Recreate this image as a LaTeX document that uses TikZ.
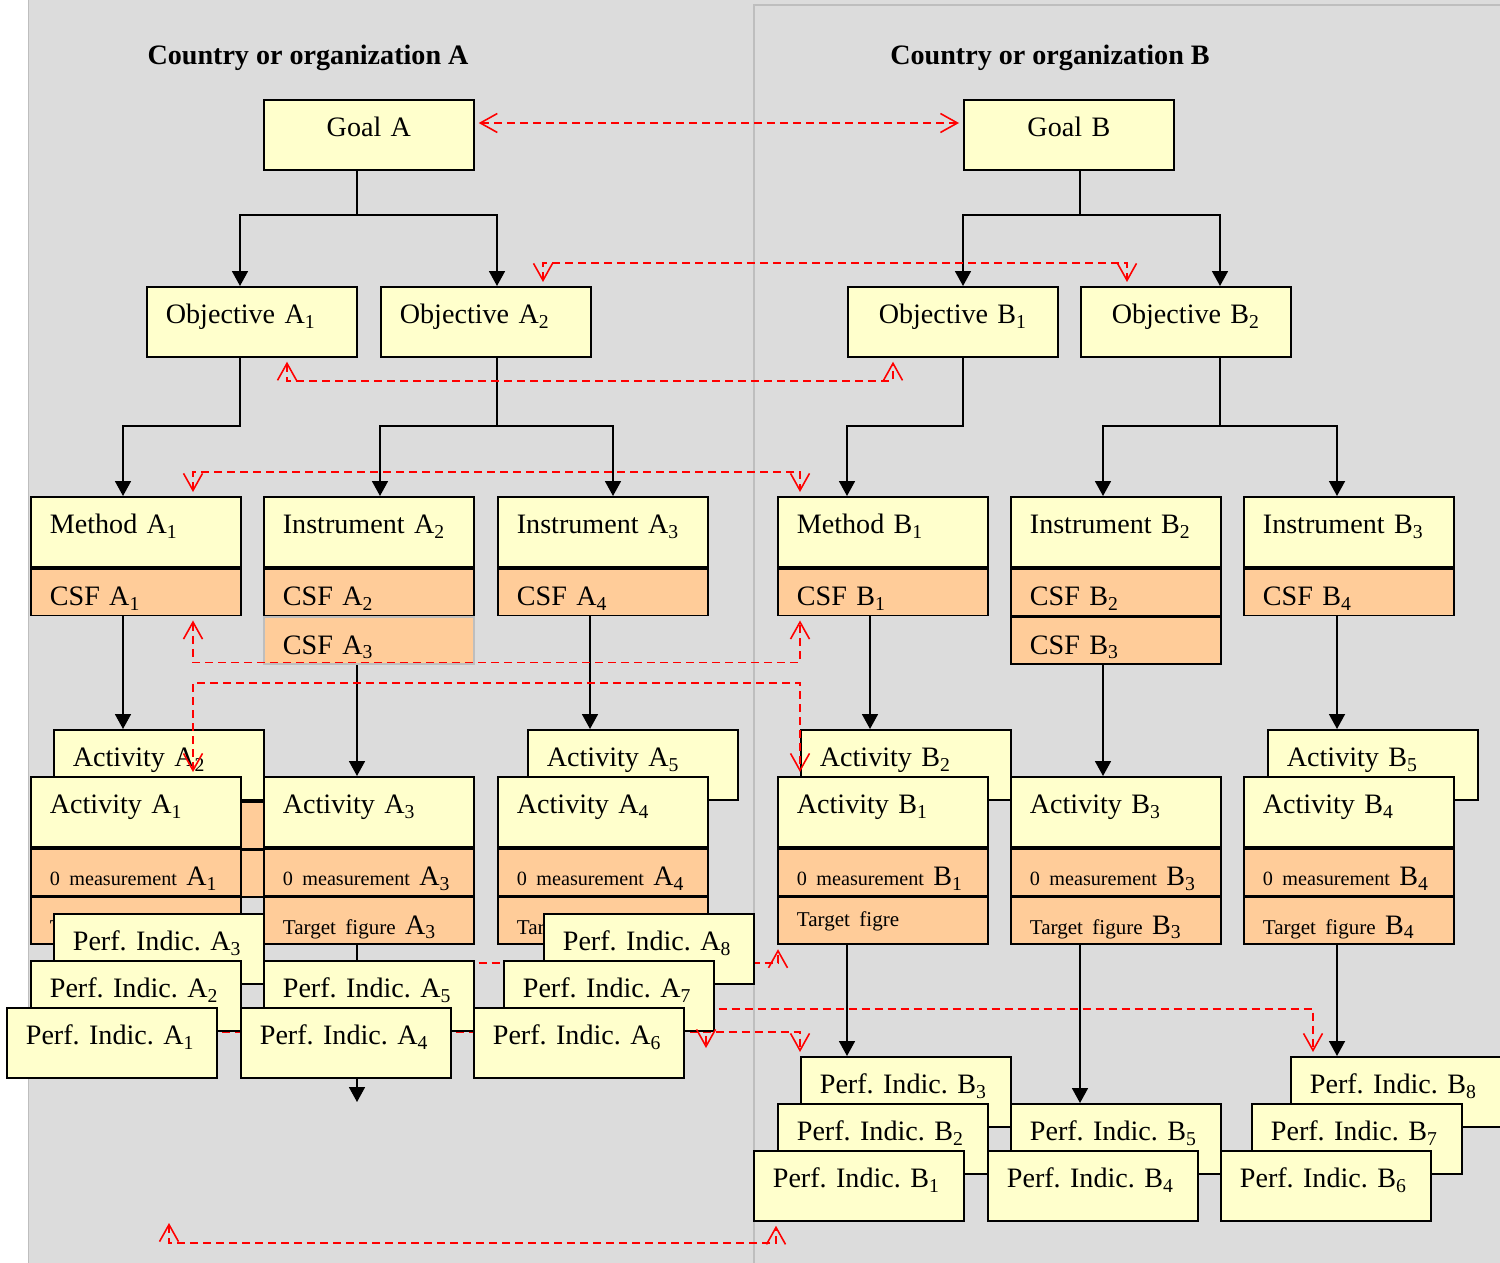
\documentclass[tikz,border=0pt]{standalone}
\usepackage{fontspec}
\setmainfont{Liberation Serif}
\usetikzlibrary{arrows.meta}
\pgfdeclarelayer{bg}
\pgfdeclarelayer{back}
\pgfsetlayers{bg,back,main}

\definecolor{panelgray}{RGB}{220,220,220}
\definecolor{panelline}{RGB}{190,190,190}
\definecolor{boxyellow}{RGB}{255,255,204}
\definecolor{boxorange}{RGB}{255,204,153}
\definecolor{linkred}{RGB}{255,0,0}

\frenchspacing
\newcommand{\lowidx}[1]{\textsubscript{#1}}
\newcommand{\measline}[2]{{\fontsize{11.5}{14}\selectfont 0 measurement} #1\lowidx{#2}}
\newcommand{\targetline}[2]{{\fontsize{12}{14}\selectfont Target figure} #1\lowidx{#2}}

\tikzset{
  boxbase/.style={draw, line width=1pt, fill=boxyellow, anchor=north west,
    minimum width=4.2cm, minimum height=1.4cm, text width=3.44cm,
    inner xsep=0.38cm, inner ysep=0pt, text height=0.74cm, text depth=0.66cm,
    font=\fontsize{16}{18}\selectfont},
  box/.style={boxbase, align=left, execute at begin node={\rightskip=0pt minus 4cm\relax}},
  goal/.style={boxbase, align=center},
  band/.style={box, fill=boxorange, minimum height=0.94cm, text height=0.74cm, text depth=0.2cm},
  title/.style={anchor=base, font=\bfseries\fontsize{16}{18}\selectfont},
  tree/.style={line width=1pt, -{Triangle[length=0.3cm,width=0.32cm]}},
  link/.style={draw=linkred, line width=0.9pt, dash pattern=on 0.16cm off 0.1cm,
    shorten <=0.08cm, shorten >=0.08cm, >={Straight Barb[length=0.34cm,width=0.38cm]}},
}

\begin{document}
\begin{tikzpicture}[x=0.02cm, y=-0.02cm]
\useasboundingbox (0,0) rectangle (1500,1263);
\begin{pgfonlayer}{bg}
\fill[panelgray] (28,0) rectangle (1500,1263);
\draw[panelline] (28,0) -- (28,1263);
\draw[panelline, line width=1.2pt] (1510,5) -- (754,5) -- (754,1270);
\end{pgfonlayer}

\node[title] (titleA) at (308,65) {Country or organization A};
\node[title] (titleB) at (1050,65) {Country or organization B};

% goals and objectives
\node[goal] (goalA) at (263,99) {Goal A};
\node[goal] (goalB) at (963,99) {Goal B};
\node[box] (objA1) at (146,286) {Objective A\lowidx{1}};
\node[box] (objA2) at (380,286) {Objective A\lowidx{2}};
\node[goal] (objB1) at (847,286) {Objective B\lowidx{1}};
\node[goal] (objB2) at (1080,286) {Objective B\lowidx{2}};

% methods, instruments and their CSF
\node[box] (metA1) at (30,496) {Method A\lowidx{1}};
\node[band] (csfA1) at (metA1.south west) {CSF A\lowidx{1}};
\node[box] (insA2) at (263,496) {Instrument A\lowidx{2}};
\node[band] (csfA2) at (insA2.south west) {CSF A\lowidx{2}};
\node[band, draw=panelline] (csfA3) at (csfA2.south west) {CSF A\lowidx{3}};
\node[box] (insA3) at (497,496) {Instrument A\lowidx{3}};
\node[band] (csfA4) at (insA3.south west) {CSF A\lowidx{4}};
\node[box] (metB1) at (777,496) {Method B\lowidx{1}};
\node[band] (csfB1) at (metB1.south west) {CSF B\lowidx{1}};
\node[box] (insB2) at (1010,496) {Instrument B\lowidx{2}};
\node[band] (csfB2) at (insB2.south west) {CSF B\lowidx{2}};
\node[band] (csfB3) at (csfB2.south west) {CSF B\lowidx{3}};
\node[box] (insB3) at (1243,496) {Instrument B\lowidx{3}};
\node[band] (csfB4) at (insB3.south west) {CSF B\lowidx{4}};

% activities
\node[box] (actA2) at (53,729) {Activity A\lowidx{2}};
\node[band] (measA2) at (actA2.south west) {};
\node[band] (tgtA2) at (measA2.south west) {};
\node[box] (actA1) at (30,776) {Activity A\lowidx{1}};
\node[band] (measA1) at (actA1.south west) {\measline{A}{1}};
\node[band] (tgtA1) at (measA1.south west) {\targetline{A}{1}};
\node[box] (actA3) at (263,776) {Activity A\lowidx{3}};
\node[band] (measA3) at (actA3.south west) {\measline{A}{3}};
\node[band] (tgtA3) at (measA3.south west) {\targetline{A}{3}};
\node[box] (actA5) at (527,729) {Activity A\lowidx{5}};
\node[box] (actA4) at (497,776) {Activity A\lowidx{4}};
\node[band] (measA4) at (actA4.south west) {\measline{A}{4}};
\node[band] (tgtA4) at (measA4.south west) {\targetline{A}{4}};
\node[box] (actB2) at (800,729) {Activity B\lowidx{2}};
\node[box] (actB1) at (777,776) {Activity B\lowidx{1}};
\node[band] (measB1) at (actB1.south west) {\measline{B}{1}};
\node[band, text height=0.58cm, text depth=0.36cm] (tgtB1) at (measB1.south west) {{\fontsize{12}{14}\selectfont Target figre}};
\node[box] (actB3) at (1010,776) {Activity B\lowidx{3}};
\node[band] (measB3) at (actB3.south west) {\measline{B}{3}};
\node[band] (tgtB3) at (measB3.south west) {\targetline{B}{3}};
\node[box] (actB5) at (1267,729) {Activity B\lowidx{5}};
\node[box] (actB4) at (1243,776) {Activity B\lowidx{4}};
\node[band] (measB4) at (actB4.south west) {\measline{B}{4}};
\node[band] (tgtB4) at (measB4.south west) {\targetline{B}{4}};

% performance indicators
\node[box] (perfA3) at (53,913) {Perf. Indic. A\lowidx{3}};
\node[box] (perfA2) at (30,960) {Perf. Indic. A\lowidx{2}};
\node[box] (perfA1) at (6,1007) {Perf. Indic. A\lowidx{1}};
\node[box] (perfA5) at (263,960) {Perf. Indic. A\lowidx{5}};
\node[box] (perfA4) at (240,1007) {Perf. Indic. A\lowidx{4}};
\node[box] (perfA8) at (543,913) {Perf. Indic. A\lowidx{8}};
\node[box] (perfA7) at (503,960) {Perf. Indic. A\lowidx{7}};
\node[box] (perfA6) at (473,1007) {Perf. Indic. A\lowidx{6}};
\node[box] (perfB3) at (800,1056) {Perf. Indic. B\lowidx{3}};
\node[box] (perfB2) at (777,1103) {Perf. Indic. B\lowidx{2}};
\node[box] (perfB1) at (753,1150) {Perf. Indic. B\lowidx{1}};
\node[box] (perfB5) at (1010,1103) {Perf. Indic. B\lowidx{5}};
\node[box] (perfB4) at (987,1150) {Perf. Indic. B\lowidx{4}};
\node[box] (perfB8) at (1290,1056) {Perf. Indic. B\lowidx{8}};
\node[box] (perfB7) at (1251,1103) {Perf. Indic. B\lowidx{7}};
\node[box] (perfB6) at (1220,1150) {Perf. Indic. B\lowidx{6}};

% tree connectors
\coordinate (jGA) at (357,215);
\coordinate (jGB) at (1080,215);
\coordinate (jOA1) at (240,426);
\coordinate (jOA2) at (497,426);
\coordinate (jOB1) at (963,426);
\coordinate (jOB2) at (1220,426);
\coordinate (endA3) at (357,1102);
\draw[tree] (goalA.south -| jGA) -- (jGA) -| (objA1.north -| 240,0);
\draw[tree] (jGA) -| (objA2.north -| 497,0);
\draw[tree] (goalB.south -| jGB) -- (jGB) -| (objB1.north -| 963,0);
\draw[tree] (jGB) -| (objB2.north -| 1220,0);
\draw[tree] (objA1.south -| jOA1) -- (jOA1) -| (metA1.north -| 123,0);
\draw[tree] (objA2.south -| jOA2) -- (jOA2) -| (insA2.north -| 380,0);
\draw[tree] (jOA2) -| (insA3.north -| 613,0);
\draw[tree] (objB1.south -| jOB1) -- (jOB1) -| (metB1.north -| 847,0);
\draw[tree] (objB2.south -| jOB2) -- (jOB2) -| (insB2.north -| 1103,0);
\draw[tree] (jOB2) -| (insB3.north -| 1337,0);
\draw[tree] (csfA1.south -| 123,0) -- (actA2.north -| 123,0);
\draw[tree] (csfA3.south -| 357,0) -- (actA3.north -| 357,0);
\draw[tree] (csfA4.south -| 590,0) -- (actA5.north -| 590,0);
\draw[tree] (csfB1.south -| 870,0) -- (actB2.north -| 870,0);
\draw[tree] (csfB3.south -| 1103,0) -- (actB3.north -| 1103,0);
\draw[tree] (csfB4.south -| 1337,0) -- (actB5.north -| 1337,0);
\draw[tree] (tgtB1.south -| 847,0) -- (perfB3.north -| 847,0);
\draw[tree] (tgtB3.south -| 1080,0) -- (perfB5.north -| 1080,0);
\draw[tree] (tgtB4.south -| 1337,0) -- (perfB8.north -| 1337,0);

\begin{pgfonlayer}{back}
\draw[tree] (tgtA3.south -| endA3) -- (endA3);
\draw[link,->] (perfA5.east |- 0,963) -| (tgtB1.south -| 778,0);
\draw[link,->] (perfA1.east |- 0,1032) -| (perfB3.north -| 800,0);
\draw[link,->] (perfA7.east |- 0,1009) -| (perfB8.north -| 1313,0);
\end{pgfonlayer}

% links between A and B
\coordinate (stub) at (706,1052);
\coordinate (lost) at (169,1219);
\draw[link,<->] (goalA.east |- 0,123) -- (goalB.west |- 0,123);
\draw[link,<->] (objA2.north -| 543,0) -- ++(0,-23) -| (objB2.north -| 1127,0);
\draw[link,<->] (objA1.south -| 287,0) -- ++(0,23) -| (objB1.south -| 893,0);
\draw[link,<->] (metA1.north -| 193,0) -- ++(0,-24) -| (metB1.north -| 800,0);
\draw[link,<->] (csfA1.south -| 193,0) -- ++(0,46) -| (csfB1.south -| 800,0);
\draw[link,<->] (actA1.north -| 193,0) -- ++(0,-93) -| (actB1.north -| 800,0);
\draw[link,->] (perfA7.south -| stub) -- (stub);
\draw[link,<->] (lost) -- ++(0,24) -| (perfB1.south -| 776,0);
\end{tikzpicture}
\end{document}
